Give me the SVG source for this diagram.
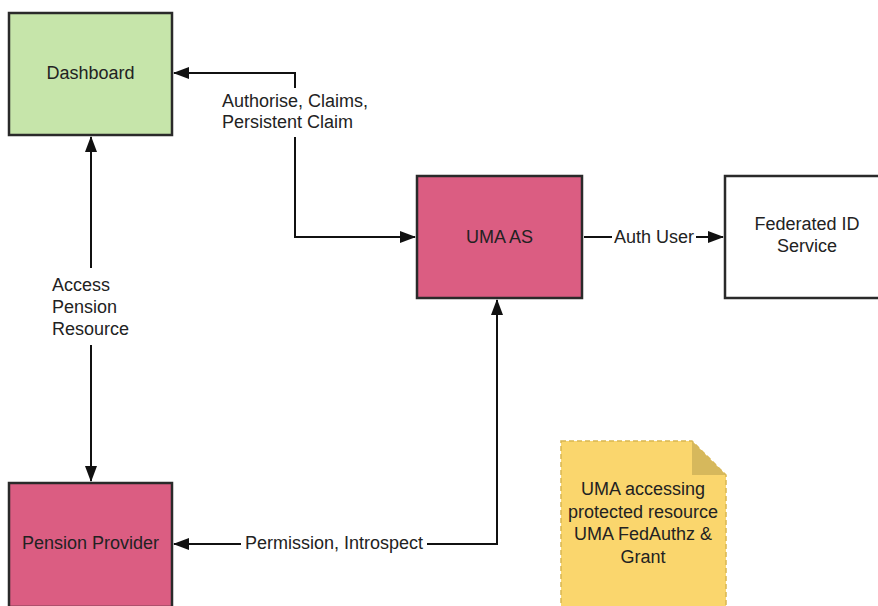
<svg xmlns="http://www.w3.org/2000/svg" width="878" height="606" viewBox="0 0 878 606">
  <defs>
    <marker id="arrow" viewBox="0 0 16 12" refX="15" refY="6" markerWidth="16" markerHeight="12" markerUnits="userSpaceOnUse" orient="auto-start-reverse">
      <path d="M0,0 L16,6 L0,12 Z" fill="#111"/>
    </marker>
    <style>
      text { font-family: "Liberation Sans", Arial, sans-serif; font-size: 18px; fill: #222; }
      .mid { text-anchor: middle; }
      .box { stroke: #2a2a2a; stroke-width: 2.5; }
      .green { fill: #c6e5aa; }
      .pink { fill: #db5d82; }
      .white { fill: #ffffff; }
      .link { fill: none; stroke: #111; stroke-width: 2; marker-start: url(#arrow); marker-end: url(#arrow); }
      .oneway { marker-start: none; }
      .gap { fill: #ffffff; }
    </style>
  </defs>

  <rect width="878" height="606" fill="#ffffff"/>

  <!-- connectors -->
  <g id="connectors">
    <path class="link" d="M174,73 H295 V237 H415"/>
    <path class="link" d="M91,137 V481"/>
    <path class="link oneway" d="M584,237 H723"/>
    <path class="link" d="M497,300 V544 H174"/>

    <rect class="gap" x="218" y="88" width="156" height="49"/>
    <text x="222" y="107">Authorise, Claims,</text>
    <text x="222" y="128">Persistent Claim</text>

    <rect class="gap" x="48" y="268" width="88" height="77"/>
    <text x="52" y="291">Access</text>
    <text x="52" y="313">Pension</text>
    <text x="52" y="335">Resource</text>

    <rect class="gap" x="612" y="226" width="84" height="22"/>
    <text class="mid" x="654" y="243">Auth User</text>

    <rect class="gap" x="241" y="533" width="186" height="22"/>
    <text class="mid" x="334" y="549">Permission, Introspect</text>
  </g>

  <!-- nodes -->
  <g id="dashboard">
    <rect class="box green" x="9" y="13" width="163" height="122"/>
    <text class="mid" x="90.5" y="79">Dashboard</text>
  </g>

  <g id="uma-as">
    <rect class="box pink" x="417" y="176" width="165" height="122"/>
    <text class="mid" x="499.5" y="243">UMA AS</text>
  </g>

  <g id="federated-id">
    <rect class="box white" x="725" y="176" width="165" height="122"/>
    <text class="mid" x="807" y="230">Federated ID</text>
    <text class="mid" x="807" y="252">Service</text>
  </g>

  <g id="pension-provider">
    <rect class="box pink" x="9" y="483" width="163" height="124"/>
    <text class="mid" x="90.5" y="549">Pension Provider</text>
  </g>

  <g id="note">
    <path d="M561,441 H692 L726,475 V607 H561 Z" fill="#fad66d" stroke="#d9b650" stroke-width="1.5" stroke-dasharray="5,3"/>
    <path d="M692,441 V475 H726 Z" fill="#d6b85c"/>
    <text class="mid" x="643" y="495">UMA accessing</text>
    <text class="mid" x="643" y="518">protected resource</text>
    <text class="mid" x="643" y="540">UMA FedAuthz &amp;</text>
    <text class="mid" x="643" y="563">Grant</text>
  </g>
</svg>
